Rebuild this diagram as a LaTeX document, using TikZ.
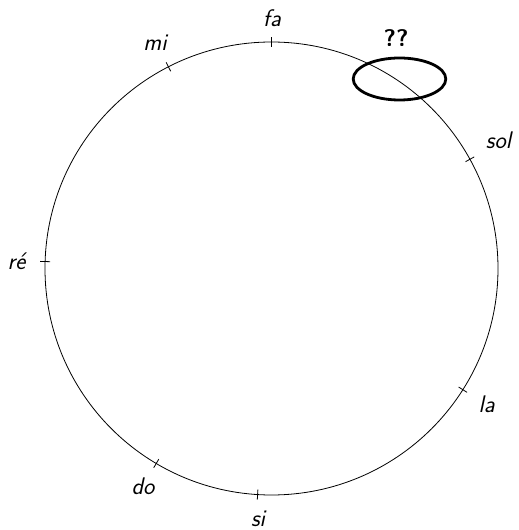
\documentclass[tikz,border=0pt]{standalone}
\usetikzlibrary{calc,shapes.geometric}
\begin{document}
\begin{tikzpicture}[x=1pt,y=1pt,
  lbl/.style={font=\fontsize{24}{28}\selectfont\sffamily\itshape, inner sep=0pt, anchor=base},
  tickmark/.style={line width=0.8pt},
  mark ring/.style={draw, line width=2.8pt, ellipse, minimum width=92.6pt, minimum height=42pt, inner sep=0pt}
]
\useasboundingbox (0,0) rectangle (519,530);
\node[circle, draw, line width=0.8pt, minimum size=453pt, inner sep=0pt] (c) at (271.5,261.5) {};
% ticks (Pythagorean scale angles)
\foreach \a/\n in {90/fa, 117.07/mi, 178.24/re, 239.41/do, 266.48/si, 327.65/la, 28.83/sol}{
  \coordinate (t\n a) at ($(c.center)+(\a:221.5)$);
  \coordinate (t\n b) at ($(c.center)+(\a:231.5)$);
  \draw[tickmark] (t\n a) -- (t\n b);
}
\node[lbl] (fa) at (272,503) {fa};
\node[lbl] (mi) at (155,479.3) {mi};
\node[lbl] (sol) at (498.5,381.7) {sol};
\node[lbl] (re) at (16.5,260) {ré};
\node[lbl] (la) at (486.7,117.3) {la};
\node[lbl] (do) at (143,35) {do};
\node[lbl] (si) at (258,3.3) {si};
\node[lbl, font=\fontsize{24}{28}\selectfont\sffamily\bfseries] (qq) at (396,483.3) {??};
\node[mark ring] (ring) at (399.5,451) {};
\end{tikzpicture}
\end{document}
